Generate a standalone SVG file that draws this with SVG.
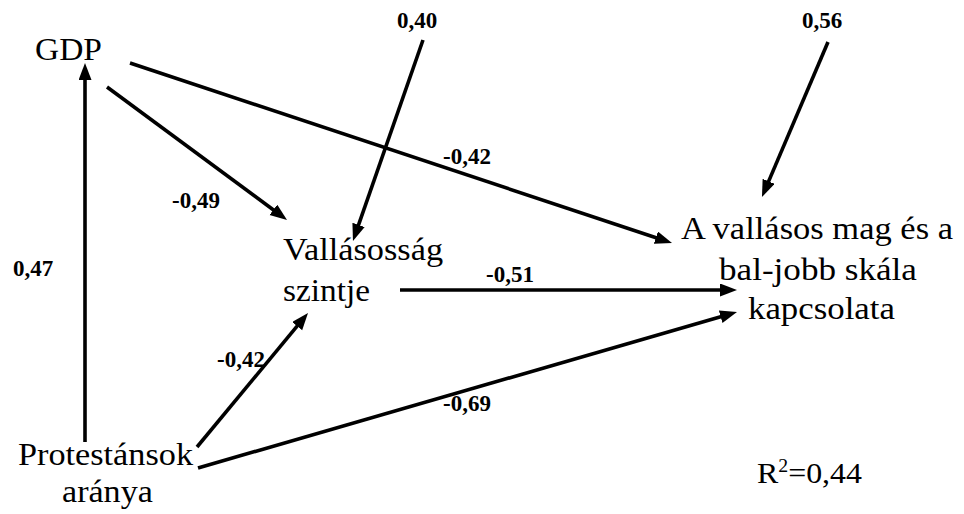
<svg xmlns="http://www.w3.org/2000/svg" width="964" height="514" viewBox="0 0 964 514">
<defs>
<style>
text{font-family:"Liberation Serif","Times New Roman",serif;fill:#000}
.node{font-size:31px}
.lbl{font-size:23px;font-weight:bold;text-anchor:middle}
.ln{stroke:#000;stroke-width:3.6;fill:none;marker-end:url(#ah)}
</style>
<marker id="ah" markerUnits="userSpaceOnUse" markerWidth="18" markerHeight="14" refX="9" refY="6.5" orient="auto">
<path d="M0,0 L17,6.5 L0,13 z" fill="#000"/>
</marker>
</defs>
<rect width="964" height="514" fill="#fff"/>
<g id="connectors">
<line class="ln" x1="85" y1="442" x2="85" y2="71"/>
<line class="ln" x1="107" y1="87" x2="280.6" y2="215.2"/>
<line class="ln" x1="130" y1="63" x2="664.4" y2="240.5"/>
<line class="ln" x1="423" y1="40" x2="355.6" y2="233.4"/>
<line class="ln" x1="828" y1="42" x2="765.1" y2="189.6"/>
<line class="ln" x1="400" y1="290" x2="729" y2="290"/>
<line class="ln" x1="197" y1="447" x2="302.9" y2="319.2"/>
<line class="ln" x1="198" y1="468" x2="729.3" y2="314.2"/>
</g>
<g id="labels">
<text class="lbl" x="417" y="28">0,40</text>
<text class="lbl" x="822" y="28">0,56</text>
<text class="lbl" x="33" y="276">0,47</text>
<text class="lbl" x="196" y="208">-0,49</text>
<text class="lbl" x="467" y="164">-0,42</text>
<text class="lbl" x="510" y="282">-0,51</text>
<text class="lbl" x="241" y="367">-0,42</text>
<text class="lbl" x="467" y="411">-0,69</text>
</g>
<g id="gdp">
<text class="node" transform="translate(35,60) scale(1.08,1)">GDP</text>
</g>
<g id="vallasossag">
<text class="node" transform="translate(283,260) scale(1.107,1)">Vallásosság</text>
<text class="node" transform="translate(283,301) scale(1.075,1)">szintje</text>
</g>
<g id="kapcsolat">
<text class="node" transform="translate(681,239) scale(1.113,1)">A vallásos mag és a</text>
<text class="node" transform="translate(719,280) scale(1.133,1)">bal-jobb skála</text>
<text class="node" transform="translate(748,319) scale(1.123,1)">kapcsolata</text>
</g>
<g id="protestansok">
<text class="node" transform="translate(18,465) scale(1.105,1)">Protestánsok</text>
<text class="node" transform="translate(62,502) scale(1.10,1)">aránya</text>
</g>
<g id="r2">
<text class="node" transform="translate(757,483) scale(1.1,1)" style="font-size:29px">R<tspan dy="-11" style="font-size:18px">2</tspan><tspan dy="11">=0,44</tspan></text>
</g>
</svg>
